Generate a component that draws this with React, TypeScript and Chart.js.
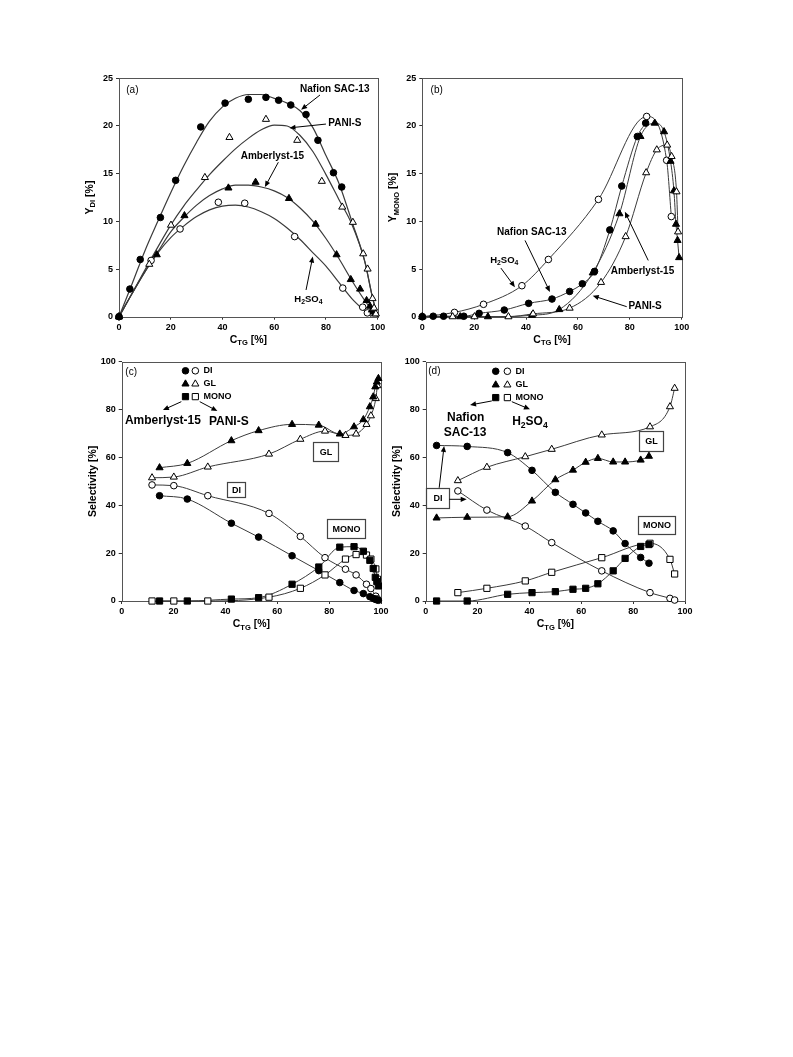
import React, { useEffect, useRef } from 'react';
import { Chart, registerables } from 'chart.js';

Chart.register(...registerables);

const FONT = '"Liberation Sans", Arial, Helvetica, sans-serif';

// ================= Panel (a): Y_DI vs C_TG =================
const A_NAFION_X = [0, 4.2, 8.2, 16.0, 21.9, 31.6, 41.0, 50.0, 56.8, 61.7, 66.4, 72.3, 76.9, 82.9, 86.1];
const A_NAFION_Y = [0, 2.9, 6.0, 10.4, 14.3, 19.9, 22.4, 22.8, 23.0, 22.7, 22.2, 21.2, 18.5, 15.1, 13.6];
const A_PANI_X = [0, 11.7, 20.1, 33.2, 42.7, 56.8, 68.9, 78.4, 86.3, 90.4, 94.4, 96.1, 98.0, 98.6, 99.3];
const A_PANI_Y = [0, 5.5, 9.6, 14.6, 18.8, 20.7, 18.5, 14.2, 11.5, 9.9, 6.6, 5.0, 1.9, 0.9, 0.3];
const A_AMB_X = [0, 14.6, 25.3, 42.3, 52.8, 65.7, 76.0, 84.1, 89.6, 93.2, 95.7, 97.0, 97.8, 98.4, 99.0];
const A_AMB_Y = [0, 6.5, 10.6, 13.5, 14.1, 12.4, 9.7, 6.5, 3.9, 2.9, 1.7, 1.1, 0.7, 0.5, 0.3];
const A_H2SO4_X = [0, 12.4, 23.6, 38.4, 48.6, 67.9, 86.5, 94.2, 96.0];
const A_H2SO4_Y = [0, 5.9, 9.2, 12.0, 11.9, 8.4, 3.0, 1.0, 0.4];
// fitted curves
const A_FIT_X = [0, 5, 10, 15, 20, 25, 30, 35, 40, 45, 50, 55, 60, 65, 70, 75, 80, 85, 90, 95, 98, 100];
const A_FIT_NAFION = [0, 3.4, 6.9, 10.0, 13.0, 15.8, 18.3, 20.5, 22.0, 22.9, 23.3, 23.3, 22.9, 22.4, 21.6, 19.8, 16.9, 14.0, 10.0, 5.8, 2.0, 0];
const A_FIT_PANI = [0, 2.4, 4.9, 7.3, 9.6, 11.6, 13.3, 14.9, 16.3, 17.6, 18.7, 19.6, 20.1, 20.0, 19.0, 17.3, 14.9, 12.3, 9.7, 5.8, 2.0, 0];
const A_FIT_AMB = [0, 2.4, 4.7, 6.8, 8.9, 10.4, 11.7, 12.7, 13.4, 13.8, 13.8, 13.6, 13.2, 12.5, 11.4, 10.0, 8.2, 6.1, 3.8, 1.7, 0.6, 0];
const A_FIT_H2SO4_X = [0, 5, 10, 15, 20, 25, 30, 35, 40, 45, 50, 55, 60, 65, 70, 75, 80, 85, 90, 95, 97.5];
const A_FIT_H2SO4 = [0, 2.4, 4.7, 6.7, 8.3, 9.5, 10.5, 11.2, 11.6, 11.7, 11.5, 11.0, 10.3, 9.3, 8.1, 6.7, 5.3, 3.6, 1.9, 0.6, 0];

// ================= Panel (b): Y_MONO vs C_TG =================
const B_NAFION_X = [0, 4.2, 8.2, 16.0, 21.9, 31.6, 41.0, 50.0, 56.8, 61.7, 66.4, 72.3, 76.9, 82.9, 86.1];
const B_NAFION_Y = [0, 0.05, 0.05, 0.05, 0.35, 0.7, 1.4, 1.85, 2.65, 3.45, 4.75, 9.1, 13.7, 18.9, 20.3];
const B_PANI_X = [0, 11.7, 20.1, 33.2, 42.7, 56.8, 68.9, 78.4, 86.3, 90.4, 94.4, 96.1, 98.0, 98.6];
const B_PANI_Y = [0, 0, 0, 0, 0.3, 0.9, 3.6, 8.4, 15.1, 17.5, 18.0, 16.8, 13.1, 8.9];
const B_AMB_X = [0, 14.6, 25.3, 42.3, 52.8, 65.7, 76.0, 84.1, 89.6, 93.2, 95.7, 97.0, 97.8, 98.4, 99.0];
const B_AMB_Y = [0, 0, 0, 0.15, 0.75, 4.6, 10.8, 18.9, 20.3, 19.4, 16.3, 13.2, 9.7, 8.0, 6.2];
const B_H2SO4_X = [0, 12.4, 23.6, 38.4, 48.6, 67.9, 86.5, 94.2, 96.0];
const B_H2SO4_Y = [0, 0.45, 1.3, 3.25, 6.0, 12.3, 21.0, 16.4, 10.5];

// ================= Panel (c): selectivity, Amberlyst-15 (filled) / PANI-S (open) =================
const C_AMB_X = [14.6, 25.3, 42.3, 52.8, 65.7, 76.0, 84.1, 89.6, 93.2, 95.7, 97.0, 97.8, 98.4, 99.0];
const C_AMB_DI = [44.0, 42.6, 32.5, 26.7, 18.9, 12.7, 7.7, 4.4, 3.1, 1.8, 1.1, 0.7, 0.5, 0.3];
const C_AMB_GL = [55.7, 57.5, 67.0, 71.2, 73.8, 73.5, 69.8, 72.8, 75.8, 81.2, 85.3, 89.5, 91.5, 93.0];
const C_AMB_MONO = [0, 0, 0.8, 1.4, 7.0, 14.2, 22.5, 22.7, 20.8, 17.0, 13.6, 9.9, 8.1, 6.3];
const C_PANI_X = [11.7, 20.1, 33.2, 56.8, 68.9, 78.4, 86.3, 90.4, 94.4, 96.1, 98.0, 98.6];
const C_PANI_DI = [48.5, 48.2, 44.0, 36.6, 27.0, 18.1, 13.3, 10.9, 7.0, 5.2, 2.0, 0.9];
const C_PANI_GL = [51.5, 51.8, 56.0, 61.4, 67.6, 71.0, 69.2, 69.8, 73.8, 77.4, 84.6, 90.0];
const C_PANI_MONO = [0, 0, 0, 1.6, 5.3, 10.9, 17.5, 19.4, 19.2, 17.5, 13.4, 9.1];

// ================= Panel (d): selectivity, Nafion SAC-13 (filled) / H2SO4 (open) =================
const D_NAFION_X = [4.2, 16.0, 31.6, 41.0, 50.0, 56.8, 61.7, 66.4, 72.3, 76.9, 82.9, 86.1];
const D_NAFION_DI = [65.0, 64.6, 62.0, 54.6, 45.4, 40.4, 36.8, 33.3, 29.3, 24.0, 18.2, 15.8];
const D_NAFION_GL = [34.7, 35.0, 35.2, 41.8, 50.7, 54.7, 58.0, 59.6, 58.1, 58.1, 58.9, 60.5];
const D_NAFION_MONO = [0, 0, 2.8, 3.5, 3.9, 4.9, 5.3, 7.2, 12.6, 17.8, 22.8, 23.6];
const D_H2SO4_X = [12.4, 23.6, 38.4, 48.6, 67.9, 86.5, 94.2, 96.0];
const D_H2SO4_DI = [46.0, 38.0, 31.3, 24.4, 12.6, 3.5, 1.1, 0.4];
const D_H2SO4_GL = [50.3, 55.9, 60.3, 63.4, 69.4, 72.8, 81.2, 88.9];
const D_H2SO4_MONO = [3.5, 5.3, 8.4, 12.0, 18.1, 24.1, 17.4, 11.3];

// ---------- helpers ----------
const pts = (xs: number[], ys: number[]) => xs.map((x, i) => ({ x, y: ys[i] }));
const MARK_R: Record<string, number> = { circle: 3.3, triangle: 4.1, rect: 4.4 };
const LINE_COLOR = '#3a3a3a';

function markers(xs: number[], ys: number[], shape: string, filled: boolean) {
  return {
    data: pts(xs, ys),
    showLine: false,
    pointStyle: shape,
    pointRadius: MARK_R[shape],
    pointBackgroundColor: filled ? '#000' : '#fff',
    pointBorderColor: '#000',
    pointBorderWidth: 1,
    clip: false,
  };
}
function line(xs: number[], ys: number[], width = 1) {
  return {
    data: pts(xs, ys),
    showLine: true,
    pointRadius: 0,
    borderColor: LINE_COLOR,
    borderWidth: width,
    cubicInterpolationMode: 'monotone',
    fill: false,
    clip: false,
  };
}

function parseRich(s: string) {
  const parts: { t: string; sub: boolean }[] = [];
  const re = /_\{([^}]*)\}/g;
  let last = 0;
  let m: RegExpExecArray | null;
  while ((m = re.exec(s))) {
    if (m.index > last) parts.push({ t: s.slice(last, m.index), sub: false });
    parts.push({ t: m[1], sub: true });
    last = re.lastIndex;
  }
  if (last < s.length) parts.push({ t: s.slice(last), sub: false });
  return parts;
}

function drawRich(ctx: CanvasRenderingContext2D, s: string, x: number, y: number, size: number, bold: boolean, align = 'center') {
  const parts = parseRich(s);
  const fontFor = (sub: boolean) => `${bold ? 'bold ' : ''}${sub ? size * 0.72 : size}px ${FONT}`;
  let w = 0;
  for (const p of parts) {
    ctx.font = fontFor(p.sub);
    w += ctx.measureText(p.t).width;
  }
  let cx = align === 'center' ? x - w / 2 : align === 'right' ? x - w : x;
  ctx.textBaseline = 'middle';
  ctx.textAlign = 'left';
  ctx.fillStyle = '#000';
  for (const p of parts) {
    ctx.font = fontFor(p.sub);
    ctx.fillText(p.t, cx, y + (p.sub ? size * 0.3 : 0));
    cx += ctx.measureText(p.t).width;
  }
}

function drawMarker(ctx: CanvasRenderingContext2D, shape: string, x: number, y: number, filled: boolean) {
  const r = MARK_R[shape];
  ctx.beginPath();
  if (shape === 'circle') {
    ctx.arc(x, y, r, 0, Math.PI * 2);
  } else if (shape === 'triangle') {
    let a = 0;
    ctx.moveTo(x + Math.sin(a) * r, y - Math.cos(a) * r);
    a += (2 * Math.PI) / 3;
    ctx.lineTo(x + Math.sin(a) * r, y - Math.cos(a) * r);
    a += (2 * Math.PI) / 3;
    ctx.lineTo(x + Math.sin(a) * r, y - Math.cos(a) * r);
    ctx.closePath();
  } else {
    const h = Math.SQRT1_2 * r;
    ctx.rect(x - h, y - h, 2 * h, 2 * h);
  }
  ctx.fillStyle = filled ? '#000' : '#fff';
  ctx.fill();
  ctx.lineWidth = 1;
  ctx.strokeStyle = '#000';
  ctx.stroke();
}

function drawArrow(ctx: CanvasRenderingContext2D, x1: number, y1: number, x2: number, y2: number) {
  const ang = Math.atan2(y2 - y1, x2 - x1);
  const hl = 6;
  const hw = 2.6;
  ctx.strokeStyle = '#000';
  ctx.lineWidth = 1;
  ctx.beginPath();
  ctx.moveTo(x1, y1);
  ctx.lineTo(x2 - Math.cos(ang) * hl * 0.8, y2 - Math.sin(ang) * hl * 0.8);
  ctx.stroke();
  ctx.beginPath();
  ctx.moveTo(x2, y2);
  ctx.lineTo(x2 - Math.cos(ang) * hl - Math.sin(ang) * hw, y2 - Math.sin(ang) * hl + Math.cos(ang) * hw);
  ctx.lineTo(x2 - Math.cos(ang) * hl + Math.sin(ang) * hw, y2 - Math.sin(ang) * hl - Math.cos(ang) * hw);
  ctx.closePath();
  ctx.fillStyle = '#000';
  ctx.fill();
}

type Note = { t: string; [k: string]: any };

const LEGEND_ROWS = [
  { shape: 'circle', label: 'DI' },
  { shape: 'triangle', label: 'GL' },
  { shape: 'rect', label: 'MONO' },
];

// ---------- panel definitions ----------
const PANELS = [
  {
    id: 'a',
    box: { left: 80, top: 60, width: 310, height: 300 },
    area: { l: 119, t: 78.3, r: 377.7, b: 316.7 },
    yMax: 25,
    yStep: 5,
    xTitle: 'C_{TG} [%]',
    yTitle: 'Y_{DI} [%]',
    datasets: [
      markers(A_NAFION_X, A_NAFION_Y, 'circle', true),
      markers(A_PANI_X, A_PANI_Y, 'triangle', false),
      markers(A_AMB_X, A_AMB_Y, 'triangle', true),
      markers(A_H2SO4_X, A_H2SO4_Y, 'circle', false),
      line(A_FIT_X, A_FIT_NAFION, 1.2),
      line(A_FIT_X, A_FIT_PANI, 1.2),
      line(A_FIT_X, A_FIT_AMB, 1.2),
      line(A_FIT_H2SO4_X, A_FIT_H2SO4, 1.2),
    ],
    notes: [
      { t: 'text', x: 2.8, y: 23.7, s: '(a)', size: 10, bold: false, align: 'left' },
      { t: 'text', x: 83.4, y: 23.85, s: 'Nafion SAC-13', size: 10, bold: true },
      { t: 'arrow', x1: 77.7, y1: 23.25, x2: 70.4, y2: 21.7 },
      { t: 'text', x: 87.3, y: 20.3, s: 'PANI-S', size: 10, bold: true },
      { t: 'arrow', x1: 80.0, y1: 20.2, x2: 65.9, y2: 19.8 },
      { t: 'text', x: 59.3, y: 16.8, s: 'Amberlyst-15', size: 10, bold: true },
      { t: 'arrow', x1: 61.6, y1: 16.2, x2: 56.4, y2: 13.6 },
      { t: 'text', x: 73.2, y: 1.8, s: 'H_{2}SO_{4}', size: 9.5, bold: true },
      { t: 'arrow', x1: 72.3, y1: 2.8, x2: 74.9, y2: 6.3 },
    ] as Note[],
  },
  {
    id: 'b',
    box: { left: 383, top: 60, width: 310, height: 300 },
    area: { l: 422.3, t: 78.3, r: 681.7, b: 316.7 },
    yMax: 25,
    yStep: 5,
    xTitle: 'C_{TG} [%]',
    yTitle: 'Y_{MONO} [%]',
    datasets: [
      markers(B_NAFION_X, B_NAFION_Y, 'circle', true),
      markers(B_PANI_X, B_PANI_Y, 'triangle', false),
      markers(B_AMB_X, B_AMB_Y, 'triangle', true),
      markers(B_H2SO4_X, B_H2SO4_Y, 'circle', false),
      line(B_NAFION_X, B_NAFION_Y),
      line(B_PANI_X, B_PANI_Y),
      line(B_AMB_X, B_AMB_Y),
      line(B_H2SO4_X, B_H2SO4_Y),
    ],
    notes: [
      { t: 'text', x: 3.2, y: 23.7, s: '(b)', size: 10, bold: false, align: 'left' },
      { t: 'text', x: 42.2, y: 8.85, s: 'Nafion SAC-13', size: 10, bold: true },
      { t: 'arrow', x1: 39.6, y1: 8.0, x2: 49.2, y2: 2.6 },
      { t: 'text', x: 31.6, y: 5.9, s: 'H_{2}SO_{4}', size: 9.5, bold: true },
      { t: 'arrow', x1: 30.3, y1: 5.1, x2: 35.7, y2: 3.1 },
      { t: 'text', x: 84.9, y: 4.8, s: 'Amberlyst-15', size: 10, bold: true },
      { t: 'arrow', x1: 87.1, y1: 5.9, x2: 78.1, y2: 11.0 },
      { t: 'text', x: 85.9, y: 1.05, s: 'PANI-S', size: 10, bold: true },
      { t: 'arrow', x1: 78.8, y1: 1.05, x2: 65.7, y2: 2.2 },
    ] as Note[],
  },
  {
    id: 'c',
    box: { left: 80, top: 345, width: 313, height: 300 },
    area: { l: 121.7, t: 361.7, r: 381, b: 601 },
    yMax: 100,
    yStep: 20,
    xTitle: 'C_{TG} [%]',
    yTitle: 'Selectivity [%]',
    datasets: [
      markers(C_AMB_X, C_AMB_DI, 'circle', true),
      markers(C_AMB_X, C_AMB_GL, 'triangle', true),
      markers(C_AMB_X, C_AMB_MONO, 'rect', true),
      markers(C_PANI_X, C_PANI_DI, 'circle', false),
      markers(C_PANI_X, C_PANI_GL, 'triangle', false),
      markers(C_PANI_X, C_PANI_MONO, 'rect', false),
      line(C_AMB_X, C_AMB_DI),
      line(C_AMB_X, C_AMB_GL),
      line(C_AMB_X, C_AMB_MONO),
      line(C_PANI_X, C_PANI_DI),
      line(C_PANI_X, C_PANI_GL),
      line(C_PANI_X, C_PANI_MONO),
    ],
    legend: { xFilled: 24.6, xOpen: 28.4, xText: 31.5, ys: [96.2, 90.7, 85.4] },
    notes: [
      { t: 'text', x: 1.4, y: 95.8, s: '(c)', size: 10, bold: false, align: 'left' },
      { t: 'arrow', x1: 23.0, y1: 83.3, x2: 15.9, y2: 79.8 },
      { t: 'arrow', x1: 30.1, y1: 83.3, x2: 36.9, y2: 79.4 },
      { t: 'text', x: 15.9, y: 75.3, s: 'Amberlyst-15', size: 12, bold: true },
      { t: 'text', x: 41.3, y: 74.9, s: 'PANI-S', size: 12, bold: true },
      { t: 'box', x1: 40.5, y1: 49.9, x2: 47.6, y2: 43.6, s: 'DI' },
      { t: 'box', x1: 73.9, y1: 66.6, x2: 83.5, y2: 58.6, s: 'GL' },
      { t: 'box', x1: 79.3, y1: 34.1, x2: 93.8, y2: 26.5, s: 'MONO' },
    ] as Note[],
  },
  {
    id: 'd',
    box: { left: 384, top: 345, width: 313, height: 300 },
    area: { l: 425.7, t: 361.7, r: 685, b: 601 },
    yMax: 100,
    yStep: 20,
    xTitle: 'C_{TG} [%]',
    yTitle: 'Selectivity [%]',
    datasets: [
      markers(D_NAFION_X, D_NAFION_DI, 'circle', true),
      markers(D_NAFION_X, D_NAFION_GL, 'triangle', true),
      markers(D_NAFION_X, D_NAFION_MONO, 'rect', true),
      markers(D_H2SO4_X, D_H2SO4_DI, 'circle', false),
      markers(D_H2SO4_X, D_H2SO4_GL, 'triangle', false),
      markers(D_H2SO4_X, D_H2SO4_MONO, 'rect', false),
      line(D_NAFION_X, D_NAFION_DI),
      line(D_NAFION_X, D_NAFION_GL),
      line(D_NAFION_X, D_NAFION_MONO),
      line(D_H2SO4_X, D_H2SO4_DI),
      line(D_H2SO4_X, D_H2SO4_GL),
      line(D_H2SO4_X, D_H2SO4_MONO),
    ],
    legend: { xFilled: 27.0, xOpen: 31.5, xText: 34.6, ys: [96.0, 90.3, 85.0] },
    notes: [
      { t: 'text', x: 1.0, y: 96.1, s: '(d)', size: 10, bold: false, align: 'left' },
      { t: 'arrow', x1: 25.5, y1: 83.6, x2: 17.1, y2: 81.9 },
      { t: 'arrow', x1: 33.2, y1: 83.3, x2: 40.2, y2: 80.1 },
      { t: 'text', x: 15.4, y: 76.8, s: 'Nafion', size: 12, bold: true },
      { t: 'text', x: 15.2, y: 70.3, s: 'SAC-13', size: 12, bold: true },
      { t: 'text', x: 40.2, y: 74.9, s: 'H_{2}SO_{4}', size: 12, bold: true },
      { t: 'box', x1: 0.2, y1: 47.3, x2: 9.1, y2: 38.7, s: 'DI' },
      { t: 'arrow', x1: 5.2, y1: 47.3, x2: 7.1, y2: 64.8 },
      { t: 'arrow', x1: 9.1, y1: 42.5, x2: 15.8, y2: 42.5 },
      { t: 'box', x1: 82.4, y1: 71.0, x2: 91.6, y2: 62.7, s: 'GL' },
      { t: 'box', x1: 82.0, y1: 35.5, x2: 96.0, y2: 27.9, s: 'MONO' },
    ] as Note[],
  },
];

function makeDeco(p: any) {
  return {
    id: 'deco',
    beforeDatasetsDraw(chart: any) {
      const { ctx, chartArea: a } = chart;
      ctx.save();
      ctx.strokeStyle = '#555';
      ctx.lineWidth = 1;
      const l = Math.round(a.left) + 0.5;
      const t = Math.round(a.top) + 0.5;
      const r = Math.round(a.right) + 0.5;
      const b = Math.round(a.bottom) + 0.5;
      ctx.strokeRect(l, t, r - l, b - t);
      ctx.restore();
    },
    afterDraw(chart: any) {
      const { ctx, chartArea: a } = chart;
      const sx = chart.scales.x;
      const sy = chart.scales.y;
      const X = (v: number) => sx.getPixelForValue(v);
      const Y = (v: number) => sy.getPixelForValue(v);
      ctx.save();
      // axis titles
      drawRich(ctx, p.xTitle, (a.left + a.right) / 2, a.bottom + 23.5, 10.5, true, 'center');
      ctx.save();
      ctx.translate(a.left - 29, (a.top + a.bottom) / 2);
      ctx.rotate(-Math.PI / 2);
      drawRich(ctx, p.yTitle, 0, 0, 10.5, true, 'center');
      ctx.restore();
      // notes
      for (const n of p.notes) {
        if (n.t === 'text') {
          drawRich(ctx, n.s, X(n.x), Y(n.y), n.size, n.bold, n.align || 'center');
        } else if (n.t === 'arrow') {
          drawArrow(ctx, X(n.x1), Y(n.y1), X(n.x2), Y(n.y2));
        } else if (n.t === 'box') {
          const x1 = Math.round(X(n.x1)) + 0.5;
          const y1 = Math.round(Y(n.y1)) + 0.5;
          const x2 = Math.round(X(n.x2)) + 0.5;
          const y2 = Math.round(Y(n.y2)) + 0.5;
          ctx.fillStyle = '#fff';
          ctx.fillRect(x1, y1, x2 - x1, y2 - y1);
          ctx.strokeStyle = '#444';
          ctx.lineWidth = 1.2;
          ctx.strokeRect(x1, y1, x2 - x1, y2 - y1);
          drawRich(ctx, n.s, (x1 + x2) / 2, (y1 + y2) / 2 + 0.5, 9, true, 'center');
        }
      }
      // legend
      if (p.legend) {
        const lg = p.legend;
        LEGEND_ROWS.forEach((row, i) => {
          const yy = Y(lg.ys[i]);
          drawMarker(ctx, row.shape, X(lg.xFilled), yy, true);
          drawMarker(ctx, row.shape, X(lg.xOpen), yy, false);
          drawRich(ctx, row.label, X(lg.xText), yy, 9, true, 'left');
        });
      }
      ctx.restore();
    },
  };
}

function buildConfig(p: any) {
  const padTop = p.area.t - p.box.top;
  const padRight = p.box.left + p.box.width - p.area.r;
  const yw = p.area.l - p.box.left;
  const xh = p.box.top + p.box.height - p.area.b;
  const tickFont = { family: FONT, size: 9, weight: 'bold' };
  const grid = {
    display: true,
    drawOnChartArea: false,
    drawTicks: true,
    tickLength: 3,
    tickColor: '#333',
    color: '#333',
    lineWidth: 1,
  };
  return {
    type: 'scatter',
    data: { datasets: p.datasets },
    options: {
      animation: false,
      responsive: false,
      maintainAspectRatio: false,
      devicePixelRatio: 1,
      events: [],
      layout: { padding: { top: padTop, right: padRight, left: 0, bottom: 0 } },
      plugins: { legend: { display: false }, tooltip: { enabled: false } },
      scales: {
        x: {
          type: 'linear',
          min: 0,
          max: 100,
          ticks: { stepSize: 20, font: tickFont, color: '#000', padding: 2, maxRotation: 0 },
          grid,
          border: { display: false },
          afterFit: (s: any) => {
            s.height = xh;
          },
        },
        y: {
          type: 'linear',
          min: 0,
          max: p.yMax,
          ticks: { stepSize: p.yStep, font: tickFont, color: '#000', padding: 3 },
          grid,
          border: { display: false },
          afterFit: (s: any) => {
            s.width = yw;
          },
        },
      },
    },
    plugins: [makeDeco(p)],
  };
}

export default function App() {
  const r0 = useRef<HTMLCanvasElement>(null);
  const r1 = useRef<HTMLCanvasElement>(null);
  const r2 = useRef<HTMLCanvasElement>(null);
  const r3 = useRef<HTMLCanvasElement>(null);
  const refs = [r0, r1, r2, r3];
  useEffect(() => {
    const charts = PANELS.map((p, i) => new Chart(refs[i].current as HTMLCanvasElement, buildConfig(p) as any));
    return () => charts.forEach((c) => c.destroy());
  }, []);
  return (
    <div style={{ position: 'absolute', left: 0, top: 0, width: 793, height: 1057, background: '#fff' }}>
      {PANELS.map((p, i) => (
        <canvas
          key={p.id}
          ref={refs[i]}
          width={p.box.width}
          height={p.box.height}
          style={{ position: 'absolute', left: p.box.left, top: p.box.top, width: p.box.width, height: p.box.height }}
        />
      ))}
    </div>
  );
}
